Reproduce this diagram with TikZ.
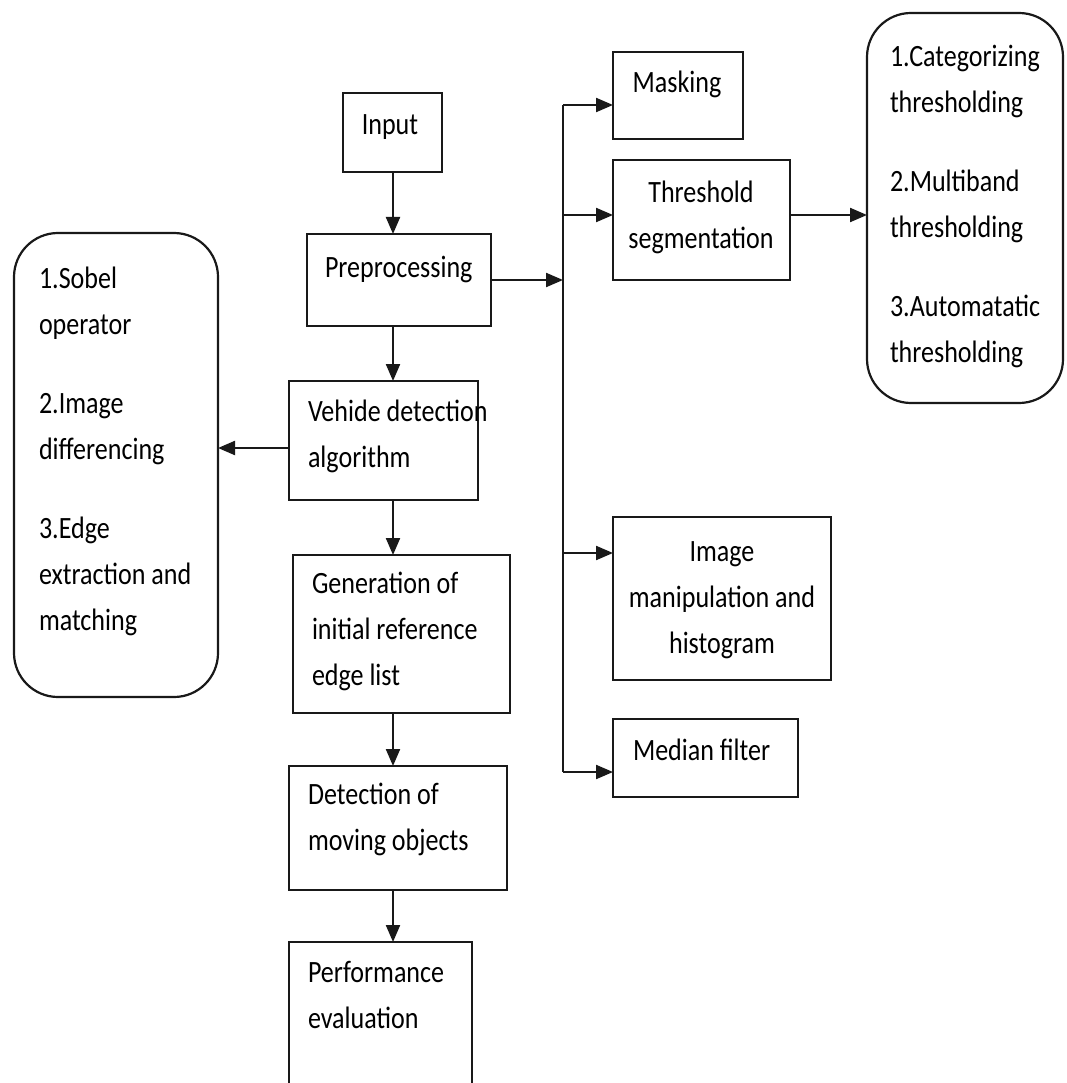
\documentclass[tikz,border=0pt]{standalone}
\usepackage{fontspec}
\newfontfamily\diafont[FakeStretch=0.84]{Carlito}
\usetikzlibrary{arrows.meta}
\begin{document}
\begin{tikzpicture}[x=1pt,y=-1pt,
  box/.style={draw=black!90, line width=2.2pt, inner sep=0pt, outer sep=0pt, anchor=north west},
  roundbox/.style={box, rounded corners=44pt},
  txt/.style={inner sep=0pt, outer sep=0pt, font=\diafont\fontsize{31}{46}\selectfont},
  % multi-line nodes are anchored on the baseline of their last line
  lt/.style={txt, align=left, anchor=base west},
  ct/.style={txt, align=center, anchor=base},
  arr/.style={draw=black!90, line width=2.2pt, -{Triangle[length=17pt,width=14pt]}},
  wire/.style={draw=black!90, line width=2.2pt}]
\clip (0,0) rectangle (1066,1083);

% main column
\node[box, minimum width=99pt,  minimum height=79pt]  (input)   at (343,93)  {};
\node[box, minimum width=184pt, minimum height=92pt]  (preproc) at (307,234) {};
\node[box, minimum width=189pt, minimum height=119pt] (vehicle) at (289,381) {};
\node[box, minimum width=217pt, minimum height=158pt] (gen)     at (293,555) {};
\node[box, minimum width=218pt, minimum height=124pt] (detect)  at (289,766) {};
\node[box, minimum width=183pt, minimum height=170pt] (perf)    at (289,942) {};

% right column
\node[box, minimum width=130pt, minimum height=87pt]  (mask)    at (613,52)  {};
\node[box, minimum width=177pt, minimum height=120pt] (thresh)  at (613,160) {};
\node[box, minimum width=218pt, minimum height=163pt] (imgman)  at (613,517) {};
\node[box, minimum width=185pt, minimum height=78pt]  (median)  at (613,719) {};

% side lists
\node[roundbox, minimum width=196pt, minimum height=390pt] (cats) at (867,13)  {};
\node[roundbox, minimum width=204pt, minimum height=464pt] (ops)  at (14,233)  {};

% texts
\node[ct] (tinput) at (390,135)  {Input};
\node[lt] (tpre)   at (325,277)  {Preprocessing};
\node[lt] (tveh)   at (308,467)  {Vehide detection\\algorithm};
\node[lt] (tgen)   at (312,685)  {Generation of\\initial reference\\edge list};
\node[lt] (tdet)   at (308,850)  {Detection of\\moving objects};
\node[lt] (tperf)  at (308,1028) {Performance\\evaluation};
\node[ct] (tmask)  at (677,93)   {Masking};
\node[ct] (tthr)   at (701,248)  {Threshold\\segmentation};
\node[ct] (timg)   at (722,653)  {Image\\manipulation and\\histogram};
\node[lt] (tmed)   at (633,760)  {Median filter};
\node[lt] (tcat)   at (890,362)  {1.Categorizing\\thresholding\\[33pt]2.Multiband\\thresholding\\[33pt]3.Automatatic\\thresholding};
\node[lt] (tops)   at (39,630)   {1.Sobel\\operator\\[33pt]2.Image\\differencing\\[33pt]3.Edge\\extraction and\\matching};

% connectors
\coordinate (spine) at (393,0);
\draw[arr] (spine |- input.south)   -- (spine |- preproc.north);
\draw[arr] (spine |- preproc.south) -- (spine |- vehicle.north);
\draw[arr] (spine |- vehicle.south) -- (spine |- gen.north);
\draw[arr] (spine |- gen.south)     -- (spine |- detect.north);
\draw[arr] (spine |- detect.south)  -- (spine |- perf.north);

\coordinate (vo) at (289,448);
\draw[arr] (vo) -- (vo -| ops.east);

\coordinate (bm) at (563,105);
\coordinate (bt) at (563,215);
\coordinate (bi) at (563,553);
\coordinate (bf) at (563,772);
\draw[arr] (preproc.east) -- (preproc.east -| bm);
\draw[wire] (bm) -- (bf);
\draw[arr] (bm) -- (bm -| mask.west);
\draw[arr] (bt) -- (bt -| thresh.west);
\draw[arr] (bi) -- (bi -| imgman.west);
\draw[arr] (bf) -- (bf -| median.west);
\draw[arr] (bt -| thresh.east) -- (bt -| cats.west);
\end{tikzpicture}
\end{document}
